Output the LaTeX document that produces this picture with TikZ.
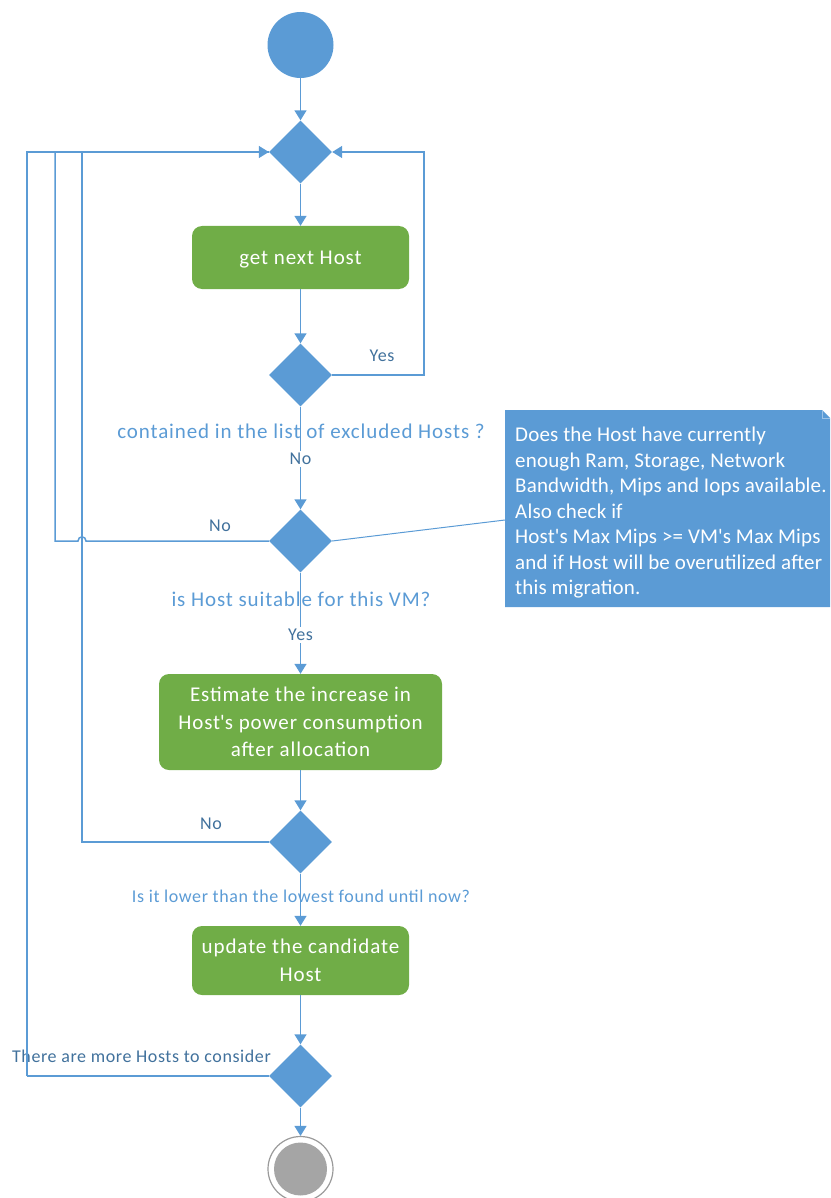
\documentclass[tikz,border=0pt]{standalone}
\usepackage{fontspec}
\setmainfont{Carlito}
\usetikzlibrary{shapes.geometric,arrows.meta}
\definecolor{vblue}{HTML}{5B9BD5}
\definecolor{vgreen}{HTML}{70AD47}
\definecolor{vdark}{HTML}{41719C}
\definecolor{vgray}{HTML}{A5A5A5}
\definecolor{vgrayline}{HTML}{9A9A9A}
\begin{document}
\begin{tikzpicture}[x=1pt,y=-1pt,
  flow/.style={vblue, line width=1.5pt},
  arr/.style={flow, -{Triangle[width=12pt,length=10pt]}},
  dec/.style={diamond, fill=vblue, minimum width=63pt, minimum height=63pt, inner sep=0pt, aspect=1},
  act/.style={rectangle, rounded corners=10pt, fill=vgreen, text=white, font=\fontsize{21}{27.5}\selectfont\addfontfeature{LetterSpace=4.4}, align=center, inner sep=0pt},
  cond/.style={text=vblue, font=\fontsize{21}{25}\selectfont\addfontfeature{LetterSpace=4.3}, inner sep=0pt},
  condsmall/.style={text=vblue, font=\fontsize{18}{20}\selectfont\addfontfeature{LetterSpace=3.3}, inner sep=0pt},
  lab/.style={text=vdark, font=\fontsize{18}{20}\selectfont\addfontfeature{LetterSpace=3.3}, inner sep=2pt},
  note/.style={text=white, font=\fontsize{21}{25.5}\selectfont\addfontfeature{LetterSpace=0.8}, align=left, inner sep=0pt, anchor=north west},
]
\useasboundingbox (0,0) rectangle (830,1198);
% nodes
\node[circle, fill=vblue, minimum size=66pt, inner sep=0pt] (start) at (300.5,45) {};
\node[dec] (d1) at (300.5,152) {};
\node[act, minimum width=217pt, minimum height=63pt, text height=18pt, text depth=3pt] (a1) at (300.5,257.5) {get next Host};
\node[dec] (d2) at (300.5,375) {};
\node[cond] (c1) at (301,431) {contained in the list of excluded Hosts ?};
\node[lab] (no1) at (300.5,459) {No};
\node[dec] (d3) at (300.5,541) {};
\node[cond] (c2) at (301,599) {is Host suitable for this VM?};
\node[lab] (yes2) at (300.5,635) {Yes};
\node[act, minimum width=283pt, minimum height=96pt] (a2) at (300.5,722) {Estimate the increase in\\Host\textquotesingle s power consumption\\after allocation};
\node[dec] (d4) at (300.5,842) {};
\node[condsmall] (c3) at (301,896) {Is it lower than the lowest found until now?};
\node[act, minimum width=217pt, minimum height=69pt] (a3) at (300.5,960.5) {update the candidate\\Host};
\node[dec] (d5) at (300.5,1076) {};
\node[circle, draw=vgrayline, line width=1.2pt, minimum size=65pt, inner sep=0pt] (end) at (300.5,1169) {};
\node[circle, fill=vgray, minimum size=53pt, inner sep=0pt] (endin) at (end.center) {};
% comment box
\fill[vblue] (505,410) -- (822,410) -- (830,418) -- (830,607) -- (505,607) -- cycle;
\draw[vblue!60, line width=0.6pt] (822,410) -- (822,418) -- (830,418);
\node[note] (note) at (515,427) {Does the Host have currently\\enough Ram, Storage, Network\\Bandwidth, Mips and Iops available.\\Also check if\\Host\textquotesingle s Max Mips >= VM\textquotesingle s Max Mips\\and if Host will be overutilized after\\this migration.};
\coordinate (notelink) at (505,520);
\draw[vblue, line width=1pt] (d3.east) -- (notelink);
% labels on connectors
\node[lab] (yes1) at (382,356) {Yes};
\node[lab] (no2) at (220,526) {No};
\node[lab] (no3) at (211,824) {No};
\node[lab, anchor=east] (more) at (273,1056) {There are more Hosts to consider};
% connectors
\coordinate (yesR) at (424,375);
\coordinate (lx1) at (55,541);
\coordinate (lx2) at (82,842);
\coordinate (lx3) at (27,1076);
\coordinate (hopR) at (86,541);
\coordinate (hopL) at (78,541);
\draw[arr] (start) -- (d1);
\draw[arr] (d1) -- (a1);
\draw[arr] (a1) -- (d2);
\draw[arr] (d2.east) -- (yesR) |- (d1.east);
\draw[flow] (d2.south) -- (no1.north);
\draw[arr] (no1.south) -- (d3.north);
\draw[flow] (d3.west) -- (hopR) .. controls (86,535.5) and (78,535.5) .. (hopL) -- (lx1) |- (d1.west);
\draw[flow] (d3.south) -- (yes2.north);
\draw[arr] (yes2.south) -- (a2.north);
\draw[arr] (a2) -- (d4);
\draw[flow] (d4.west) -- (lx2) |- (d1.west);
\draw[arr] (d4) -- (a3);
\draw[arr] (a3) -- (d5);
\draw[arr] (lx3) |- (d1.west);
\draw[flow] (d5.west) -- (lx3);
\draw[arr] (d5) -- (end);
\end{tikzpicture}
\end{document}
